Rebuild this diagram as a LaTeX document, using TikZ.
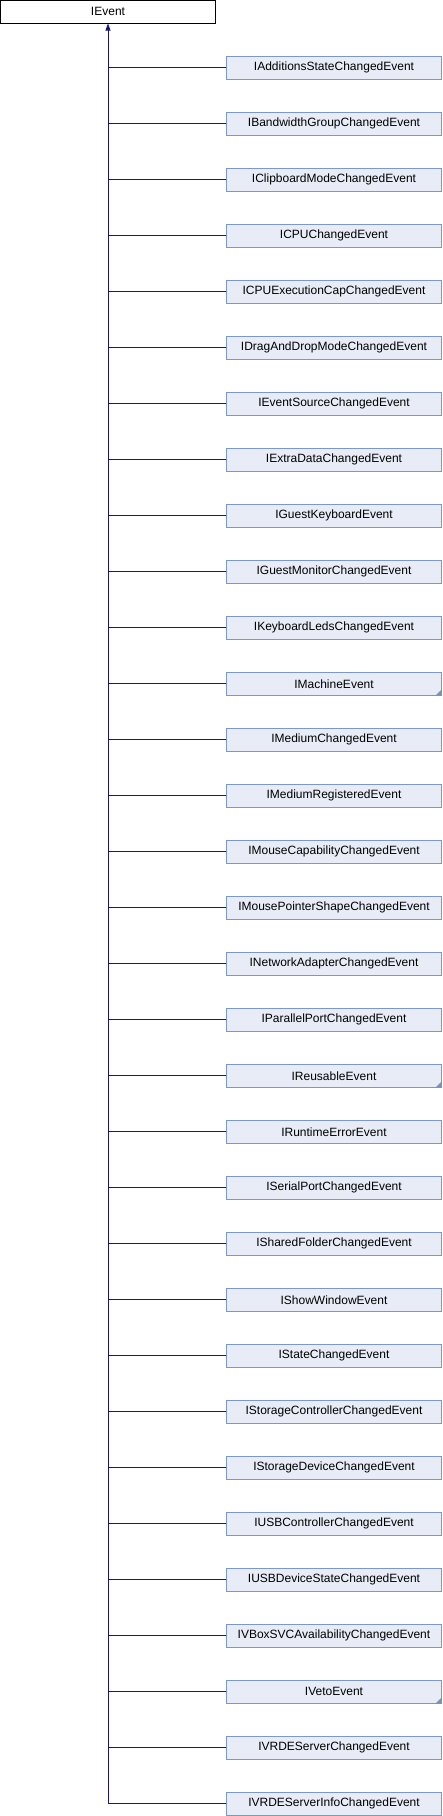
\documentclass[tikz,border=0pt]{standalone}
\usepackage{fontspec}
\setmainfont{Liberation Sans}
\usetikzlibrary{arrows.meta}
\definecolor{edgeblue}{HTML}{191970}
\definecolor{boxfill}{HTML}{E8ECF6}
\definecolor{boxline}{HTML}{7F96CB}
\definecolor{flagcol}{HTML}{7D8FBA}
\tikzset{
  basebox/.style={draw=black, fill=white, minimum width=215pt, minimum height=23pt, inner sep=0pt, font=\fontsize{12}{14}\selectfont},
  childbox/.style={draw=boxline, fill=boxfill, minimum width=215pt, minimum height=23pt, inner sep=0pt, font=\fontsize{12}{14}\selectfont},
  inherit/.style={draw=edgeblue, line width=0.8pt}
}
\begin{document}
\begin{tikzpicture}[x=1pt, y=-1pt]
\useasboundingbox (0,0) rectangle (442,1816);
\node[basebox] (base) at (108,11.8) {IEvent};
% derived interfaces, 56pt apart
\foreach \name/\flag [count=\i] in {
  IAdditionsStateChangedEvent/0, IBandwidthGroupChangedEvent/0,
  IClipboardModeChangedEvent/0, ICPUChangedEvent/0,
  ICPUExecutionCapChangedEvent/0, IDragAndDropModeChangedEvent/0,
  IEventSourceChangedEvent/0, IExtraDataChangedEvent/0,
  IGuestKeyboardEvent/0, IGuestMonitorChangedEvent/0,
  IKeyboardLedsChangedEvent/0, IMachineEvent/1,
  IMediumChangedEvent/0, IMediumRegisteredEvent/0,
  IMouseCapabilityChangedEvent/0, IMousePointerShapeChangedEvent/0,
  INetworkAdapterChangedEvent/0, IParallelPortChangedEvent/0,
  IReusableEvent/1, IRuntimeErrorEvent/0,
  ISerialPortChangedEvent/0, ISharedFolderChangedEvent/0,
  IShowWindowEvent/0, IStateChangedEvent/0,
  IStorageControllerChangedEvent/0, IStorageDeviceChangedEvent/0,
  IUSBControllerChangedEvent/0, IUSBDeviceStateChangedEvent/0,
  IVBoxSVCAvailabilityChangedEvent/0, IVetoEvent/1,
  IVRDEServerChangedEvent/0, IVRDEServerInfoChangedEvent/0} {
  \node[childbox] (c\i) at (334,{67.8+56*(\i-1)}) {\name};
  \ifnum\flag=1
    \fill[flagcol] (c\i.south east) -- ++(-6,0) -- ++(6,-6) -- cycle;
  \fi
  \draw[inherit] (c\i.west) -- (c\i.west -| base.south);
}
\draw[inherit, -{Triangle[width=5pt, length=7pt]}] (c32.west -| base.south) -- (base.south);
\end{tikzpicture}
\end{document}
